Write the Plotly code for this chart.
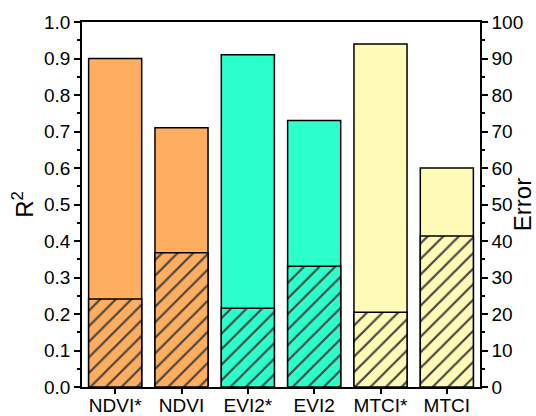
import plotly.graph_objects as go

# Vegetation indices and their fit statistics
indices = ["NDVI*", "NDVI", "EVI2*", "EVI2", "MTCI*", "MTCI"]
r2_values = [0.90, 0.71, 0.91, 0.73, 0.94, 0.60]
error_values = [24.1, 36.8, 21.6, 33.1, 20.5, 41.4]
bar_colors = ["#FFAD5E", "#FFAD5E", "#2BFFCB", "#2BFFCB", "#FFFBB6", "#FFFBB6"]

FONT = "Liberation Sans, Arial, sans-serif"

fig = go.Figure()

# R² bars on the left axis
fig.add_trace(go.Bar(
    x=indices, y=r2_values, yaxis="y", width=0.8,
    marker=dict(color=bar_colors, line=dict(color="black", width=1.5)),
    showlegend=False, hoverinfo="x+y",
))

# Error bars (hatched) on the right axis
fig.add_trace(go.Bar(
    x=indices, y=error_values, yaxis="y2", width=0.8,
    marker=dict(
        color=bar_colors,
        line=dict(color="black", width=1.5),
        pattern=dict(shape="/", fgcolor="black", bgcolor=bar_colors,
                     size=11, solidity=0.2, fgopacity=1),
    ),
    showlegend=False, hoverinfo="x+y",
))


def axis_style(ticklen=6, size=19):
    return dict(
        showgrid=False, zeroline=False, showline=True, linecolor="black",
        linewidth=1.5, ticks="outside", tickcolor="black", tickwidth=1.5,
        ticklen=ticklen, automargin=False,
        tickfont=dict(family=FONT, size=size, color="black"),
    )


fig.update_layout(
    width=536, height=416,
    margin=dict(l=82, r=56, t=22, b=29),
    paper_bgcolor="white", plot_bgcolor="white",
    barmode="overlay", bargap=0.2,
    font=dict(family=FONT, color="black"),
    xaxis=dict(
        **axis_style(5, 19), mirror=True, ticklabelstandoff=-5,
        range=[-0.5, 5.5],
    ),
    yaxis=dict(
        **axis_style(6, 19), range=[0, 1.0], dtick=0.1, tickformat=".1f",
        minor=dict(dtick=0.05, ticks="outside", ticklen=3,
                   tickcolor="black", tickwidth=1.5),
        title=dict(text="R<sup>2</sup>", font=dict(family=FONT, size=24),
                   standoff=4),
    ),
    yaxis2=dict(
        **axis_style(6, 19), overlaying="y", side="right",
        range=[0, 100], dtick=10,
        minor=dict(dtick=5, ticks="outside", ticklen=3,
                   tickcolor="black", tickwidth=1.5),
        title=dict(text="Error", font=dict(family=FONT, size=24),
                   standoff=8),
    ),
)

fig.write_html("out.html")
